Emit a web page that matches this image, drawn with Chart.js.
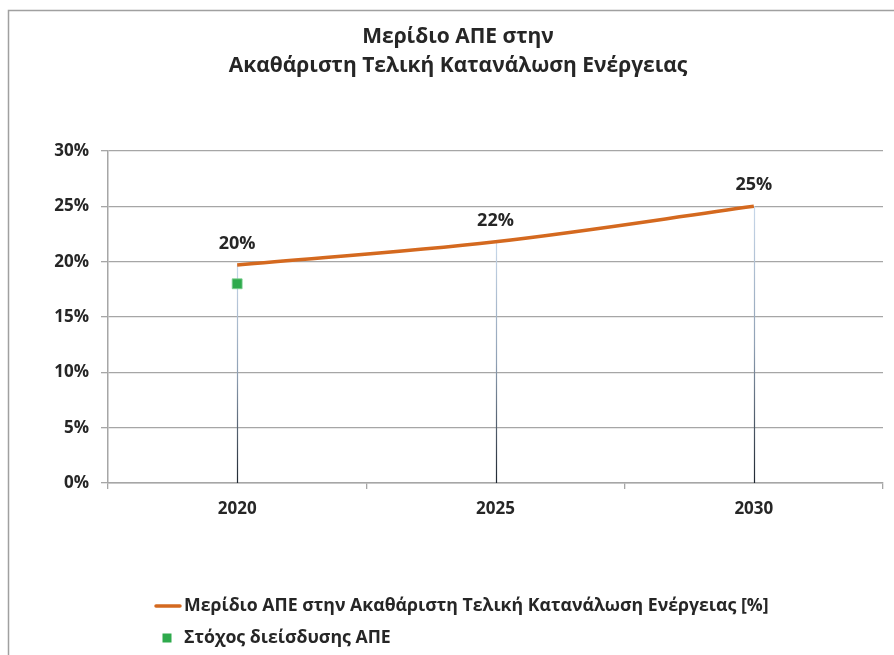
<!DOCTYPE html>
<html><head><meta charset="utf-8">
<script src="https://cdn.jsdelivr.net/npm/chart.js@4/dist/chart.umd.min.js"></script>
<style>html,body{margin:0;padding:0;background:#fff;}#wrap{width:894px;height:655px;}</style>
</head><body><div id="wrap"><canvas id="c" width="894" height="655"></canvas></div>
<script>
const titleLines = ['Μερίδιο ΑΠΕ στην', 'Ακαθάριστη Τελική Κατανάλωση Ενέργειας'];
const categories = ['2020', '2025', '2030'];
const shareLabel = 'Μερίδιο ΑΠΕ στην Ακαθάριστη Τελική Κατανάλωση Ενέργειας [%]';
const shareValues = [19.7, 21.8, 25.0];
const targetLabel = 'Στόχος διείσδυσης ΑΠΕ';
const targetValues = [18.0, null, null];
const yMin = 0, yMax = 30, yStep = 5;

const FAMILY = "'Open Sans', 'DejaVu Sans', sans-serif";
const TEXT = '#262626';
const GRID = '#a6a6a6';
const ORANGE = '#d4691f';
const GREEN = '#2eaa4c';

const dropLines = {
  id: 'dropLines',
  beforeDatasetsDraw(chart) {
    const ctx = chart.ctx, meta = chart.getDatasetMeta(0);
    const y0 = chart.scales.y.getPixelForValue(yMin);
    ctx.save();
    meta.data.forEach(el => {
      const g = ctx.createLinearGradient(0, el.y, 0, y0);
      g.addColorStop(0, '#c8d8ea');
      g.addColorStop(0.5, '#8fa0b4');
      g.addColorStop(1, '#1e2630');
      ctx.strokeStyle = g; ctx.lineWidth = 1.2;
      ctx.beginPath(); ctx.moveTo(Math.round(el.x) + 0.5, el.y); ctx.lineTo(Math.round(el.x) + 0.5, y0); ctx.stroke();
    });
    ctx.restore();
  }
};

const valueLabels = {
  id: 'valueLabels',
  afterDatasetsDraw(chart) {
    const ctx = chart.ctx, meta = chart.getDatasetMeta(0);
    ctx.save();
    ctx.font = 'bold 18px ' + FAMILY;
    ctx.fillStyle = TEXT; ctx.textAlign = 'center'; ctx.textBaseline = 'middle';
    meta.data.forEach((el, i) => {
      ctx.fillText(Math.round(shareValues[i]) + '%', el.x, el.y - 21);
    });
    ctx.restore();
  }
};

const frameLegend = {
  id: 'frameLegend',
  afterDraw(chart) {
    const ctx = chart.ctx;
    ctx.save();
    ctx.strokeStyle = '#a0a0a0'; ctx.lineWidth = 1.5;
    ctx.beginPath(); ctx.moveTo(8.5, 655); ctx.lineTo(8.5, 10.5); ctx.lineTo(894, 10.5); ctx.stroke();
    // legend
    ctx.font = 'bold 17.7px ' + FAMILY;
    ctx.fillStyle = TEXT; ctx.textAlign = 'left'; ctx.textBaseline = 'middle';
    ctx.strokeStyle = ORANGE; ctx.lineWidth = 3.5; ctx.lineCap = 'round';
    ctx.beginPath(); ctx.moveTo(156, 606); ctx.lineTo(180, 606); ctx.stroke();
    ctx.fillText(shareLabel, 184, 606);
    ctx.fillStyle = GREEN;
    ctx.fillRect(162.5, 633.5, 9, 9);
    ctx.fillStyle = TEXT;
    ctx.fillText(targetLabel, 184, 638);
    ctx.restore();
  }
};

new Chart(document.getElementById('c'), {
  type: 'line',
  data: {
    labels: categories,
    datasets: [
      { label: shareLabel, data: shareValues, borderColor: ORANGE, backgroundColor: ORANGE,
        borderWidth: 3.5, pointRadius: 0, tension: 0.35, order: 2 },
      { label: targetLabel, data: targetValues, showLine: false, pointStyle: 'rect',
        pointRadius: 7, pointBackgroundColor: GREEN, pointBorderColor: '#7fcf92', pointBorderWidth: 0.8, order: 1 }
    ]
  },
  options: {
    responsive: false, devicePixelRatio: 1, animation: false,
    layout: { padding: { left: 33, right: 11, top: 0, bottom: 132 } },
    plugins: {
      legend: { display: false },
      tooltip: { enabled: false },
      title: { display: true, text: titleLines, color: TEXT,
        font: { family: FAMILY, size: 21, weight: 'bold', lineHeight: '29px' },
        padding: { top: 23, bottom: 70 } }
    },
    scales: {
      x: {
        type: 'category', offset: true,
        grid: { offset: true, drawOnChartArea: false, drawTicks: true, tickLength: 6, color: GRID, lineWidth: 1.3 },
        border: { color: GRID, width: 1.5 },
        ticks: { color: TEXT, padding: 10, font: { family: FAMILY, size: 17, weight: 'bold' } },
        afterFit(s) { s.height = 40; }
      },
      y: {
        min: yMin, max: yMax,
        grid: { color: GRID, lineWidth: 1.3, tickLength: 7 },
        border: { color: GRID, width: 1.5 },
        ticks: { stepSize: yStep, color: TEXT, padding: 12, callback: v => v + '%',
          font: { family: FAMILY, size: 17, weight: 'bold' } },
        afterFit(s) { s.width = 75; }
      }
    }
  },
  plugins: [dropLines, valueLabels, frameLegend]
});
</script></body></html>
